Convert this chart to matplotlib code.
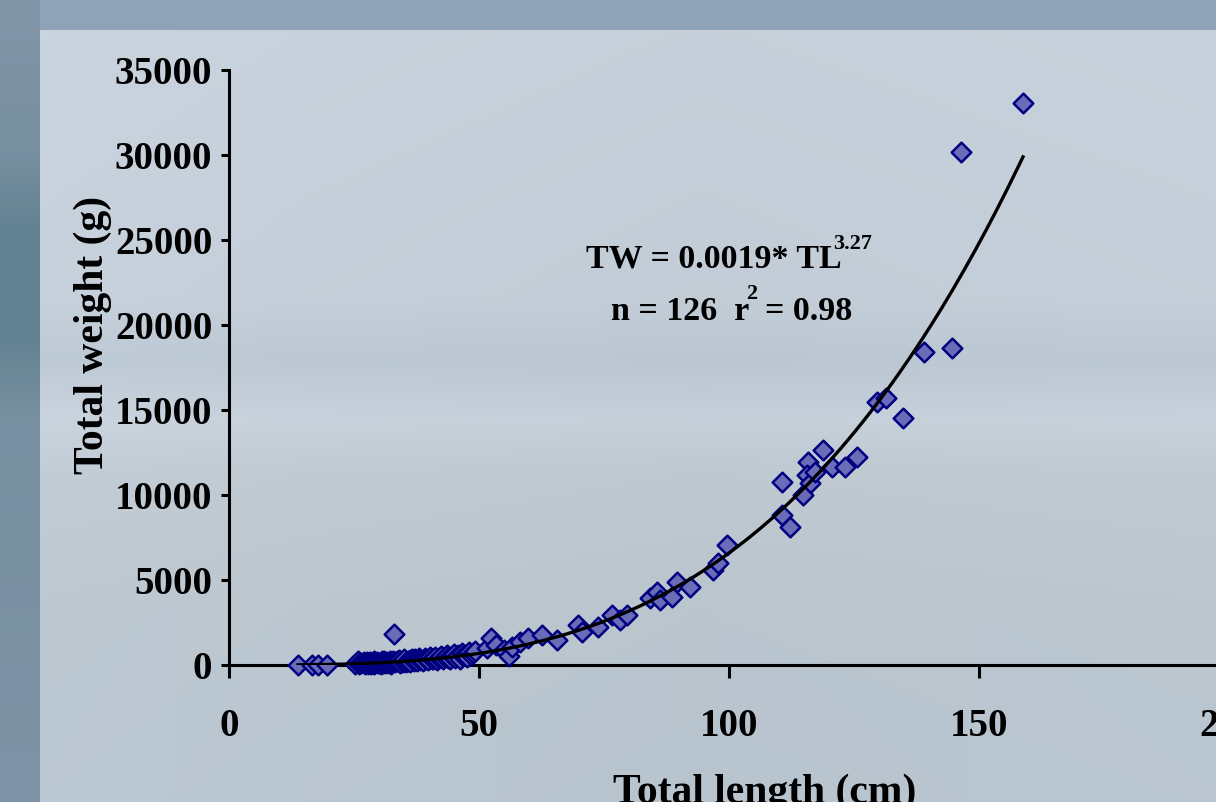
import numpy as np
import matplotlib
matplotlib.use("Agg")
import matplotlib.pyplot as plt

# ---------------- data ----------------
lengths_small = [13.8, 16.6, 17.8, 19.6, 33.0]
weights_small = [0, 0, 0, 0, 1820]

lengths_cluster = [25.2, 25.8, 26.0, 26.2, 26.4, 26.9, 27.1, 27.5, 27.8, 28.0,
                   28.1, 28.3, 28.6, 28.9, 29.0, 29.2, 29.5, 29.8, 30.0, 30.3,
                   30.6, 30.8, 30.9, 31.0, 31.2, 31.5, 31.8, 32.1, 32.4, 32.6,
                   32.8, 33.2, 33.6, 34.0, 34.3, 34.5, 34.7, 35.0, 35.4, 35.8,
                   36.1, 36.3, 36.5, 36.9, 37.2, 37.6, 38.0, 38.3, 38.7, 39.1,
                   39.4, 39.8, 40.2, 40.5, 40.9, 41.3, 41.6, 42.0, 42.4, 42.7,
                   43.1, 43.5, 43.8, 44.2, 44.6, 45.0, 45.3, 45.7, 46.1, 46.5,
                   46.8, 47.2, 47.6, 48.0, 48.4, 48.8, 49.2]
weights_cluster = [60, 210, 40, 120, 90, 180, 70, 150, 30, 110,
                   200, 80, 140, 60, 230, 120, 170, 90, 140, 60,
                   210, 120, 160, 260, 100, 190, 140, 230, 80, 180,
                   260, 150, 210, 300, 120, 250, 190, 330, 160, 240,
                   290, 200, 380, 250, 330, 220, 400, 300, 260, 420,
                   340, 290, 450, 380, 330, 470, 290, 400, 520, 360,
                   460, 560, 400, 330, 510, 620, 430, 560, 380, 700,
                   520, 600, 450, 760, 560, 680, 820]

lengths_mid = [51.6, 52.4, 53.4, 55.0, 56.0, 56.6,
               58.2, 59.8, 62.6, 65.6, 69.8, 70.6, 73.8, 76.6, 78.2, 79.6,
               84.2, 85.6, 86.2, 88.6, 89.6, 92.2, 96.8, 97.8, 99.6]
weights_mid = [1000, 1580, 1180, 880, 530, 1060,
               1350, 1590, 1760, 1470, 2350, 1940, 2240, 2940, 2650, 2940,
               3940, 4290, 3820, 4000, 4880, 4590, 5590, 6000, 7060]

lengths_large = [110.6, 115.8, 118.8, 120.6, 123.2, 125.6, 115.6, 116.2,
                 114.8, 110.6, 112.2, 117.2,
                 129.6, 131.4, 134.8, 139.0, 144.6, 146.4, 158.8]
weights_large = [10760, 11940, 12650, 11650, 11650, 12240, 11180, 10700,
                 10000, 8820, 8120, 11350,
                 15470, 15700, 14530, 18410, 18650, 30180, 33060]

fit_a = 0.0019
fit_b = 3.27

x_ticks = [0, 50, 100, 150, 200]
y_ticks = [0, 5000, 10000, 15000, 20000, 25000, 30000, 35000]

lengths = lengths_small + lengths_cluster + lengths_mid + lengths_large
weights = weights_small + weights_cluster + weights_mid + weights_large

# ---------------- figure ----------------
W, H = 1216, 802
fig = plt.figure(figsize=(W / 100, H / 100), dpi=100)

# background (photo-like frame + light panel)
yy = np.arange(H)[:, None]
xx = np.arange(W)[None, :]
bg = np.zeros((H, W, 3))
outer_top = np.array([142, 163, 183]) / 255
bg[:] = outer_top
lp = np.interp(yy[:, 0], [0, 150, 230, 330, 420, 802], [0, 0.3, 1, 1, 0.3, 0.1])
left_col = (np.array([130, 150, 168])[None, :] * (1 - lp[:, None]) +
            np.array([98, 130, 145])[None, :] * lp[:, None]) / 255
bg[:, :40, :] = left_col[:, None, :]
prof_y = [30, 200, 300, 360, 420, 470, 600, 802]
r = np.interp(yy[:, 0], prof_y, [200, 198, 196, 188, 200, 192, 188, 186])
g = np.interp(yy[:, 0], prof_y, [210, 208, 207, 200, 210, 203, 199, 198])
b = np.interp(yy[:, 0], prof_y, [220, 218, 217, 212, 220, 212, 208, 208])
panel = np.stack([r, g, b], axis=1) / 255
hx = np.interp(xx[0], [40, 300, 700, 1216], [1.01, 1.0, 0.99, 1.0])
panel_img = panel[:, None, :] * hx[None, :, None]
bg[30:, 40:, :] = np.clip(panel_img[30:, 40:, :], 0, 1)

bax = fig.add_axes([0, 0, 1, 1], zorder=-10)
bax.imshow(bg, aspect="auto", extent=[0, 1, 0, 1], interpolation="bilinear")
bax.axis("off")

# main axes (extends beyond right edge as in reference)
x0, x1 = 229, 1229
y0, y1 = 665, 70
ax = fig.add_axes([x0 / W, (H - y0) / H, (x1 - x0) / W, (y0 - y1) / H])
ax.patch.set_alpha(0)
ax.set_xlim(0, 200)
ax.set_ylim(0, 35000)

font = dict(family="Liberation Serif", weight="bold")

ax.scatter(lengths, weights, marker="D", s=100, facecolor="#6a6cb8",
           edgecolor="#000080", linewidth=1.8, zorder=3, clip_on=False)

xf = np.linspace(min(lengths), max(lengths), 200)
ax.plot(xf, fit_a * xf ** fit_b, color="black", lw=2.4, zorder=4)

for s in ["top", "right"]:
    ax.spines[s].set_visible(False)
for s in ["left", "bottom"]:
    ax.spines[s].set_linewidth(2.2)

ax.set_xticks(x_ticks)
ax.set_yticks(y_ticks)
ax.set_xticklabels([str(v) for v in x_ticks], fontsize=28, **font)
ax.set_yticklabels([str(v) for v in y_ticks], fontsize=28, **font)
ax.tick_params(axis="x", length=9, width=2.2, direction="out", pad=22)
ax.tick_params(axis="y", length=6, width=2.2, direction="out", pad=6)

ax.set_ylabel("Total weight (g)", fontsize=30, **font)
ax.set_xlabel("Total length (cm)", fontsize=30, **font)
ax.xaxis.set_label_coords((765 - x0) / (x1 - x0), -(774 - y0) / (y0 - y1))
ax.yaxis.set_label_coords(-(229 - 112) / (x1 - x0), (665 - 335) / (y0 - y1))

t1 = fig.text(586 / W, 1 - 268 / H, "TW = 0.0019* TL", fontsize=24.5,
              ha="left", va="baseline", **font)
ax.annotate("3.27", xy=(1, 1), xycoords=t1, xytext=(-6, -7),
            textcoords="offset points", fontsize=16, ha="left", va="bottom",
            **font)
t2 = fig.text(611 / W, 1 - 320 / H, "n = 126  r", fontsize=24.5,
              ha="left", va="baseline", **font)
ax.annotate("2", xy=(1, 1), xycoords=t2, xytext=(-2, -6),
            textcoords="offset points", fontsize=16, ha="left",
            va="bottom", **font)
ax.annotate("= 0.98", xy=(1, 0), xycoords=t2, xytext=(11, 0),
            textcoords="offset points", fontsize=24.5, ha="left",
            va="bottom", **font)

fig.savefig("out.png", dpi=100)
